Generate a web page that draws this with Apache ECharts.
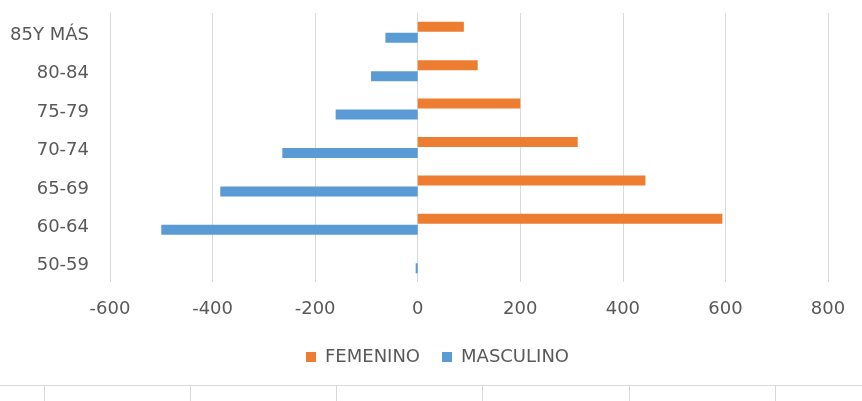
<!DOCTYPE html>
<html>
<head>
<meta charset="utf-8">
<script src="https://cdn.jsdelivr.net/npm/echarts@6/dist/echarts.min.js"></script>
<style>
  html, body { margin: 0; padding: 0; background: #fff; }
  #chart { width: 862px; height: 401px; }
</style>
</head>
<body>
<div id="chart"></div>
<script>
// Age groups, bottom to top
var ageGroups = ['50-59', '60-64', '65-69', '70-74', '75-79', '80-84', '85Y MÁS'];
// Women plotted to the right, men to the left (negative values)
var femenino = [0, 594, 444, 312, 200, 117, 90];
var masculino = [-4, -500, -385, -264, -160, -91, -63];
var xTicks = { min: -600, max: 800, step: 200 };

var chart = echarts.init(document.getElementById('chart'));
var fontFam = '"DejaVu Sans", "Open Sans", sans-serif';

chart.setOption({
  animation: false,
  backgroundColor: '#ffffff',
  textStyle: { fontFamily: fontFam },
  grid: { left: 110, right: 34, top: 13, bottom: 119, containLabel: false },
  legend: {
    data: ['FEMENINO', 'MASCULINO'],
    left: 301,
    top: 343,
    itemWidth: 10,
    itemHeight: 10,
    itemGap: 22,
    icon: 'rect',
    textStyle: { color: '#595959', fontSize: 18, fontFamily: fontFam, padding: [0, 0, 0, 4] }
  },
  xAxis: {
    type: 'value',
    min: xTicks.min,
    max: xTicks.max,
    interval: xTicks.step,
    axisLine: { show: false },
    axisTick: { show: false },
    axisLabel: { color: '#595959', fontSize: 18, margin: 18 },
    splitLine: { show: true, lineStyle: { color: '#D9D9D9', width: 1 } }
  },
  yAxis: {
    type: 'category',
    data: ageGroups,
    axisLine: { show: false, onZero: false },
    axisTick: { show: false },
    axisLabel: { color: '#595959', fontSize: 18, margin: 21, verticalAlign: 'top', lineHeight: 6 },
    splitLine: { show: false }
  },
  series: [
    {
      name: 'FEMENINO',
      type: 'bar',
      data: femenino,
      barWidth: 10,
      barGap: '10%',
      itemStyle: { color: '#ED7D31' }
    },
    {
      name: 'MASCULINO',
      type: 'bar',
      data: masculino,
      barWidth: 10,
      barGap: '10%',
      itemStyle: { color: '#5B9BD5' }
    }
  ],
  graphic: [
    // Frame edge of the panel below the chart
    { type: 'line', shape: { x1: 0, y1: 385.5, x2: 862, y2: 385.5 }, style: { stroke: '#D9D9D9', lineWidth: 1 } },
    { type: 'line', shape: { x1: 44.5, y1: 386, x2: 44.5, y2: 401 }, style: { stroke: '#D9D9D9', lineWidth: 1 } },
    { type: 'line', shape: { x1: 190.5, y1: 386, x2: 190.5, y2: 401 }, style: { stroke: '#D9D9D9', lineWidth: 1 } },
    { type: 'line', shape: { x1: 336.5, y1: 386, x2: 336.5, y2: 401 }, style: { stroke: '#D9D9D9', lineWidth: 1 } },
    { type: 'line', shape: { x1: 482.5, y1: 386, x2: 482.5, y2: 401 }, style: { stroke: '#D9D9D9', lineWidth: 1 } },
    { type: 'line', shape: { x1: 629.5, y1: 386, x2: 629.5, y2: 401 }, style: { stroke: '#D9D9D9', lineWidth: 1 } },
    { type: 'line', shape: { x1: 775.5, y1: 386, x2: 775.5, y2: 401 }, style: { stroke: '#D9D9D9', lineWidth: 1 } }
  ]
});
</script>
</body>
</html>
